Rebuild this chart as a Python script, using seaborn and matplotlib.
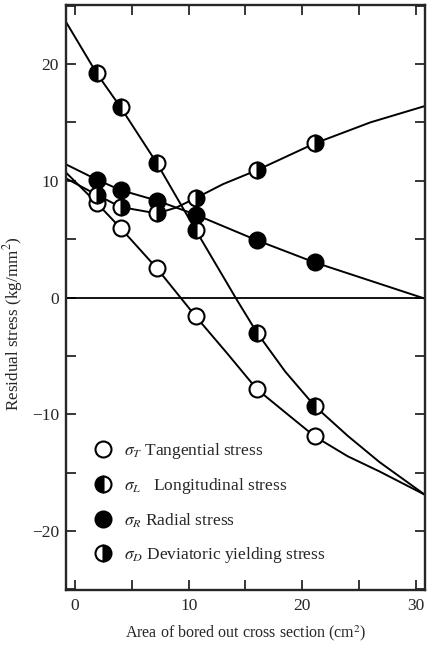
import matplotlib
matplotlib.use("Agg")
import matplotlib.pyplot as plt
from matplotlib.lines import Line2D
from matplotlib.ticker import MultipleLocator
import seaborn as sns

# ---------------- data ----------------
# measured points
pts_x = [1.9, 4.0, 7.2, 10.6, 16.0, 21.1]
tang_y = [8.1, 5.95, 2.5, -1.6, -7.85, -11.9]
long_y = [19.2, 16.3, 11.5, 5.8, -3.0, -9.3]
rad_y = [10.1, 9.2, 8.3, 7.1, 4.9, 3.0]
dev_y = [8.8, 7.75, 7.2, 8.5, 10.9, 13.2]

# hand-drawn curves
tang_cx = [-0.8, 1.9, 4.0, 7.2, 10.6, 13.4, 16.0, 18.7, 21.1, 24.0, 26.8, 30.8]
tang_cy = [10.7, 8.1, 5.95, 2.5, -1.6, -4.8, -7.85, -10.0, -11.9, -13.6, -14.9, -16.9]
long_cx = [-0.8, 1.9, 4.0, 7.2, 10.6, 14.3, 16.0, 18.5, 21.1, 24.0, 26.8, 30.8]
long_cy = [23.6, 19.2, 16.3, 11.5, 5.8, -0.3, -3.0, -6.35, -9.3, -11.85, -14.1, -16.9]
rad_cx = [-0.8, 1.9, 4.0, 7.2, 10.6, 16.0, 21.1, 30.8]
rad_cy = [11.4, 10.1, 9.2, 8.3, 7.1, 4.9, 3.0, -0.1]
dev_cx = [-0.8, 1.9, 4.0, 7.2, 8.9, 10.6, 13.0, 16.0, 21.1, 26.0, 30.8]
dev_cy = [10.2, 8.8, 7.75, 7.2, 7.7, 8.5, 9.7, 10.9, 13.2, 15.0, 16.4]

legend_labels = [r"$\sigma_T$ Tangential stress",
                 r"$\sigma_L$   Longitudinal stress",
                 r"$\sigma_R$ Radial stress",
                 r"$\sigma_D$ Deviatoric yielding stress"]
xlabel = "Area of bored out cross section (cm$^2$)"
ylabel = "Residual stress (kg/mm$^2$)"

# ---------------- style ----------------
sns.set_style("ticks")
plt.rcParams["font.family"] = ["Liberation Serif", "DejaVu Serif"]
plt.rcParams["mathtext.fontset"] = "stix"
plt.rcParams["axes.unicode_minus"] = True

fig = plt.figure(figsize=(4.28, 6.52), dpi=100)
ax = fig.add_axes([66 / 428, 1 - 590 / 652, (425 - 66) / 428, (590 - 5) / 652])

# curves
for cx, cy in [(tang_cx, tang_cy), (long_cx, long_cy), (rad_cx, rad_cy), (dev_cx, dev_cy)]:
    sns.lineplot(x=cx, y=cy, sort=False, estimator=None, color="black",
                 linewidth=1.4, ax=ax, zorder=2)

ax.axhline(0, color="black", linewidth=1.3, zorder=1)

ms = 11.5
mew = 1.5
styles = {
    "T": dict(fillstyle="full", markerfacecolor="white", markerfacecoloralt="white"),
    "L": dict(fillstyle="left", markerfacecolor="black", markerfacecoloralt="white"),
    "R": dict(fillstyle="full", markerfacecolor="black", markerfacecoloralt="black"),
    "D": dict(fillstyle="right", markerfacecolor="black", markerfacecoloralt="white"),
}
for key, ys in [("T", tang_y), ("L", long_y), ("R", rad_y), ("D", dev_y)]:
    sns.lineplot(x=pts_x, y=ys, sort=False, estimator=None, ax=ax,
                 marker="o", linestyle="none", markersize=ms,
                 markeredgecolor="black", markeredgewidth=mew,
                 color="black", zorder=3, **styles[key])

# axes
ax.set_xlim(-0.8, 30.8)
ax.set_ylim(-25.05, 25.05)
ax.xaxis.set_major_locator(MultipleLocator(10))
ax.xaxis.set_minor_locator(MultipleLocator(5))
ax.yaxis.set_major_locator(MultipleLocator(10))
ax.yaxis.set_minor_locator(MultipleLocator(5))
ax.tick_params(which="both", direction="in", top=True, right=True,
               length=7, width=1.3, labelsize=12.5)
ax.tick_params(axis="x", pad=6)
ax.tick_params(axis="y", pad=5)
for sp in ax.spines.values():
    sp.set_linewidth(1.7)
    sp.set_visible(True)

ax.set_xlabel(xlabel, fontsize=11.5)
ax.set_ylabel(ylabel, fontsize=12.3)
ax.xaxis.set_label_coords(0.5, -0.056)
ax.yaxis.set_label_coords(-0.114, 0.455)

handles = [Line2D([], [], marker="o", linestyle="none", markersize=ms,
                  markeredgecolor="black", markeredgewidth=mew, **styles[k])
           for k in ["T", "L", "R", "D"]]
ax.legend(handles, legend_labels, loc="upper left", bbox_to_anchor=(0.08, 0.254),
          frameon=False, fontsize=12.5, handlelength=1.0, handletextpad=0.7,
          labelspacing=0.86, borderpad=0, borderaxespad=0)

fig.savefig("out.png", dpi=100)
